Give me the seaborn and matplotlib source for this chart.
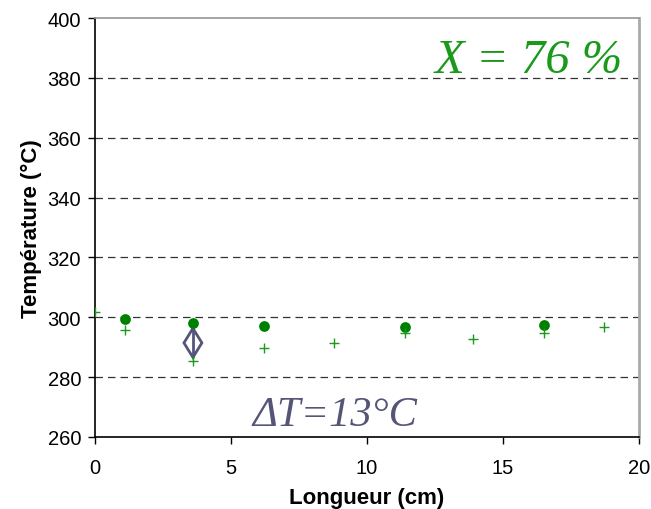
import matplotlib
matplotlib.use("Agg")
import matplotlib.pyplot as plt
import seaborn as sns
import pandas as pd

# Data
circle_x = [1.1, 3.6, 6.2, 11.4, 16.5]
circle_y = [299.4, 298.1, 297.2, 296.9, 297.5]
plus_x = [0.0, 1.1, 3.6, 6.2, 8.8, 11.4, 13.9, 16.5, 18.7]
plus_y = [301.7, 295.8, 285.3, 289.7, 291.4, 294.8, 292.6, 294.7, 296.7]
delta_x = 3.6
delta_low, delta_high = 286.6, 296.3
x_ticks = [0, 5, 10, 15, 20]
y_ticks = [260, 280, 300, 320, 340, 360, 380, 400]

sns.set_theme(style="white")
plt.rcParams['font.family'] = ['Liberation Sans', 'DejaVu Sans']

fig = plt.figure(figsize=(6.51, 5.10), dpi=100)
ax = fig.add_axes([95/651, 1-438/510, (639-95)/651, (438-19)/510])

for y in y_ticks[1:-1]:
    ax.axhline(y, color="#333333", lw=0.9, ls=(0, (6, 4)), zorder=0)

df_c = pd.DataFrame({"x": circle_x, "y": circle_y})
df_p = pd.DataFrame({"x": plus_x, "y": plus_y})
sns.scatterplot(data=df_c, x="x", y="y", ax=ax, color="#008000", s=60,
                marker="o", edgecolor="#008000", linewidth=0, zorder=4)
sns.scatterplot(data=df_p, x="x", y="y", ax=ax, color="#1a9a1a", s=42,
                marker="+", linewidth=1.0, zorder=4)

# diamond range indicator
mid = (delta_low + delta_high) / 2
hw = 0.33
ax.plot([delta_x, delta_x + hw, delta_x, delta_x - hw, delta_x],
        [delta_high, mid, delta_low, mid, delta_high],
        color="#55557a", lw=2, zorder=3, solid_joinstyle="miter")
ax.plot([delta_x, delta_x], [delta_low, delta_high], color="#55557a", lw=2, zorder=3)

ax.set_xlim(0, 20)
ax.set_ylim(260, 400)
ax.set_xticks(x_ticks)
ax.set_yticks(y_ticks)
ax.tick_params(axis="both", labelsize=14.5, direction="out", length=5, width=1,
               color="black", left=True, bottom=True)
ax.tick_params(axis="y", pad=5)
ax.tick_params(axis="x", pad=10)
for lab in ax.get_xticklabels() + ax.get_yticklabels():
    lab.set_color("black")

ax.spines["left"].set_color("black")
ax.spines["bottom"].set_color("black")
ax.spines["top"].set_color("#999999")
ax.spines["right"].set_color("#aaaaaa")
ax.spines["right"].set_linewidth(2)
ax.spines["left"].set_linewidth(1.2)
ax.spines["bottom"].set_linewidth(1.2)

ax.set_xlabel("Longueur (cm)", fontsize=16, fontweight="bold", color="black", labelpad=7)
ax.set_ylabel("Température (°C)", fontsize=16, fontweight="bold", color="black", labelpad=4)

ax.text(12.5, 382.1, "X = 76 %", fontsize=35, style="italic",
        family=["Liberation Serif", "DejaVu Serif"], color="#1a9a1a",
        ha="left", va="baseline")
ax.text(5.8, 264.1, "ΔT=13°C", fontsize=30.5, style="italic",
        family=["Liberation Serif", "DejaVu Serif"], color="#555577",
        ha="left", va="baseline")

fig.savefig("out.png", dpi=100)
